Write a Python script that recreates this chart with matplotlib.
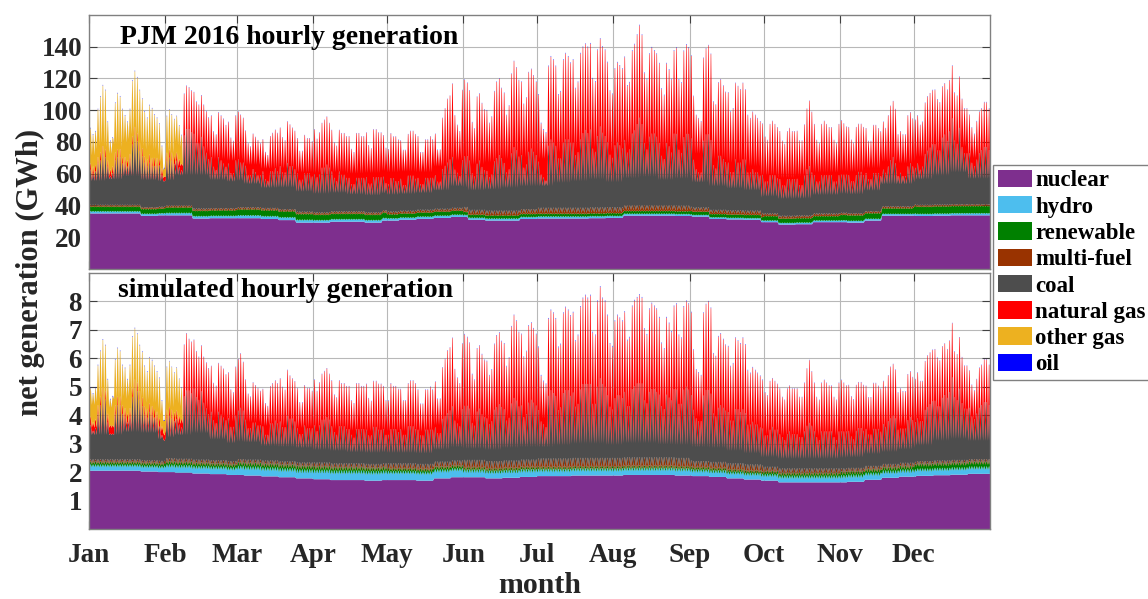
import numpy as np
import matplotlib
matplotlib.use("Agg")
import matplotlib.pyplot as plt
from matplotlib.patches import Patch

plt.rcParams['font.family'] = ['Liberation Serif', 'DejaVu Serif']
plt.rcParams['font.weight'] = 'bold'

# ---------------------------------------------------------------- calendar
MONTHS = ['Jan', 'Feb', 'Mar', 'Apr', 'May', 'Jun',
          'Jul', 'Aug', 'Sep', 'Oct', 'Nov', 'Dec']
MONTH_DAYS = [31, 29, 31, 30, 31, 30, 31, 31, 30, 31, 30, 31]
N_DAYS = 366

FUELS = ['nuclear', 'hydro', 'renewable', 'multi-fuel', 'coal',
         'natural gas', 'other gas', 'oil']
COLORS = ['#7E2F8E', '#4DBEEE', '#008000', '#993300', '#4D4D4D',
          '#FF0000', '#EDB120', '#0000FF']

# ================================================================ PJM 2016 (GWh)
# weekly nuclear output
pjm_nuclear_wk = [35, 35, 35, 33.5, 33.8, 33.8,
                  31.8, 32, 32, 32, 31.5, 30.8, 29.2,
                  29.2, 29.8, 29.8, 29.2, 30.5, 31, 31.6,
                  32.2, 32.8, 31, 30.5, 30.5, 31.5,
                  31.8, 31.8, 31.8, 32, 32.2, 33.6, 33.6, 33.6, 33.4,
                  33, 31.5, 31.2, 31,
                  29.5, 28, 28.2, 29.5, 29.5,
                  29.2, 30.5, 33.6, 33.6,
                  33.4, 33.6, 33.8, 33.8, 33.8]
# monthly hydro / renewable / multi-fuel / oil (night, afternoon)
pjm_hydro_lo = [0.9, 1.0, 1.2, 1.1, 1.0, 0.8, 0.8, 0.8, 0.7, 0.7, 0.8, 0.9]
pjm_hydro_hi = [1.5, 1.7, 2.0, 1.8, 1.6, 1.5, 1.5, 1.4, 1.2, 1.2, 1.3, 1.5]
pjm_renew = [3.0, 3.5, 3.8, 3.5, 2.6, 2.0, 1.8, 1.8, 2.1, 2.8, 3.5, 4.6]
pjm_mfuel_lo = [0.6, 0.6, 0.6, 0.6, 0.7, 0.8, 0.9, 0.9, 0.8, 0.7, 0.6, 0.6]
pjm_mfuel_hi = [1.0, 1.2, 1.2, 1.3, 1.6, 2.8, 3.5, 3.5, 2.5, 1.6, 1.2, 1.0]
pjm_oil_lo = [0.1, 0.1, 0.1, 0.1, 0.1, 0.1, 0.1, 0.1, 0.1, 0.1, 0.1, 0.1]
pjm_oil_hi = [0.5, 0.4, 0.3, 0.3, 0.3, 0.4, 0.6, 0.6, 0.4, 0.3, 0.3, 0.4]
# weekly night-time coal and natural gas
pjm_coal_lo_wk = [16, 17, 19, 18, 17, 20,
                  22, 19, 18, 16, 14, 15, 14,
                  13, 13, 12, 12, 12, 12, 12,
                  13, 15, 15, 16, 17, 17,
                  17, 19, 20, 21, 19, 20, 21, 19, 20,
                  18, 17, 16, 15,
                  12, 12, 12, 13, 13,
                  13, 14, 15, 15,
                  17, 19, 21, 17, 17]
pjm_gas_lo_wk = [2, 2, 2, 2, 2, 6,
                 14, 13, 13, 12, 12, 12, 12,
                 13, 13, 13, 14, 14, 14, 13,
                 15, 16, 16, 17, 18, 18,
                 17, 19, 20, 20, 19, 20, 20, 19, 20,
                 18, 17, 16, 15,
                 13, 13, 14, 14, 14,
                 14, 14, 14, 13,
                 14, 15, 16, 13, 13]
# daily afternoon-peak coal output (Fri..Thu rows)
pjm_coal_pk = [22, 20, 21, 26, 28, 32, 30,
               24, 18, 20, 28, 30, 30, 26,
               26, 24, 28, 38, 44, 40, 34,
               32, 28, 26, 28, 26, 26, 26,
               26, 20, 16, 28, 30, 28, 26,
               28, 24, 22, 44, 48, 48, 46,
               47, 41, 41, 45, 39, 35, 31,
               32, 26, 24, 32, 30, 28, 26,
               28, 22, 22, 30, 30, 28, 28,
               26, 20, 20, 24, 22, 20, 20,
               23, 18, 17, 23, 23, 25, 23,
               27, 23, 23, 29, 27, 27, 25,
               24, 20, 20, 24, 24, 24, 22,
               24, 22, 24, 28, 28, 30, 28,
               25, 21, 19, 25, 23, 23, 21,
               21, 17, 17, 21, 21, 21, 21,
               22, 18, 18, 22, 22, 22, 22,
               21, 17, 17, 21, 21, 19, 19,
               20, 16, 16, 22, 22, 22, 20,
               20, 16, 16, 20, 20, 20, 20,
               21, 17, 17, 25, 27, 29, 31,
               32, 24, 22, 20, 30, 32, 32,
               31, 23, 21, 29, 31, 27, 25,
               25, 21, 23, 31, 33, 35, 33,
               30, 24, 26, 36, 40, 38, 34,
               34, 26, 28, 36, 38, 36, 34,
               29, 21, 19, 17, 39, 43, 41,
               39, 31, 31, 41, 43, 43, 41,
               41, 33, 35, 43, 47, 49, 47,
               49, 37, 35, 45, 51, 47, 45,
               41, 33, 31, 39, 41, 39, 37,
               41, 33, 35, 45, 47, 51, 55,
               51, 39, 35, 43, 45, 45, 43,
               39, 31, 29, 39, 37, 33, 45,
               45, 35, 33, 43, 45, 45, 43,
               30, 24, 22, 22, 42, 46, 46,
               44, 28, 26, 34, 34, 32, 30,
               30, 24, 24, 32, 30, 30, 32,
               32, 24, 24, 26, 24, 24, 22,
               24, 20, 20, 24, 24, 24, 22,
               23, 19, 19, 23, 23, 23, 23,
               23, 19, 19, 25, 29, 31, 27,
               24, 20, 20, 24, 24, 24, 24,
               24, 20, 20, 24, 24, 24, 24,
               24, 20, 20, 24, 26, 26, 24,
               24, 20, 20, 24, 24, 24, 22,
               23, 21, 25, 29, 31, 27, 19,
               21, 19, 19, 25, 27, 25, 23,
               26, 22, 24, 32, 34, 36, 38,
               38, 34, 34, 42, 44, 40, 46,
               54, 40, 38, 48, 36, 32, 32,
               32, 26, 24, 28, 32, 34, 36,
               36, 34]
# daily afternoon-peak natural gas output
pjm_gas_pk = [4, 4, 4, 4, 5, 5, 5,
              4, 4, 4, 5, 5, 5, 4,
              4, 4, 4, 5, 5, 5, 5,
              5, 4, 4, 5, 5, 5, 5,
              4, 4, 3, 5, 5, 5, 5,
              5, 5, 4, 26, 27, 26, 26,
              26, 26, 24, 26, 26, 26, 26,
              26, 22, 22, 28, 28, 28, 26,
              26, 22, 20, 28, 30, 30, 28,
              22, 20, 18, 22, 22, 22, 20,
              20, 17, 16, 22, 24, 24, 24,
              24, 22, 20, 26, 26, 24, 24,
              22, 18, 18, 24, 22, 22, 22,
              28, 24, 26, 28, 30, 30, 28,
              26, 22, 22, 26, 26, 26, 26,
              26, 22, 20, 28, 28, 26, 26,
              28, 24, 22, 30, 30, 28, 28,
              26, 22, 22, 28, 26, 28, 26,
              24, 22, 22, 26, 28, 28, 28,
              26, 20, 20, 24, 24, 26, 24,
              26, 20, 20, 32, 36, 40, 40,
              46, 34, 30, 28, 44, 48, 46,
              44, 32, 30, 42, 42, 40, 38,
              38, 34, 36, 44, 48, 48, 44,
              44, 36, 40, 50, 54, 52, 48,
              46, 40, 42, 50, 50, 48, 46,
              42, 32, 30, 30, 50, 52, 52,
              50, 40, 42, 52, 54, 52, 50,
              52, 42, 44, 54, 54, 54, 54,
              54, 44, 44, 54, 55, 54, 54,
              50, 40, 40, 48, 50, 50, 50,
              52, 42, 42, 52, 54, 56, 58,
              56, 44, 44, 52, 54, 52, 52,
              50, 42, 40, 50, 48, 46, 52,
              54, 44, 44, 54, 56, 54, 52,
              40, 34, 34, 32, 52, 54, 56,
              54, 40, 40, 46, 48, 46, 44,
              44, 38, 40, 48, 48, 46, 48,
              44, 36, 34, 36, 36, 34, 34,
              32, 28, 26, 32, 34, 32, 32,
              30, 28, 26, 30, 32, 30, 30,
              30, 28, 28, 32, 38, 41, 38,
              32, 26, 24, 32, 34, 32, 30,
              30, 26, 24, 32, 34, 32, 30,
              30, 26, 24, 30, 30, 30, 30,
              28, 24, 24, 30, 30, 28, 28,
              30, 28, 32, 34, 35, 34, 26,
              26, 26, 26, 32, 32, 30, 30,
              30, 28, 28, 32, 34, 34, 34,
              34, 32, 30, 32, 32, 32, 32,
              33, 30, 30, 32, 30, 28, 28,
              24, 22, 20, 24, 26, 26, 28,
              28, 26]
# daily other-gas output, Jan 1 - Feb 11 (zero afterwards)
pjm_ogas_lo = [16, 14, 14, 18, 20, 21, 20,
               18, 14, 14, 20, 20, 20, 18,
               20, 19, 21, 24, 25, 24, 22,
               21, 19, 17, 19, 19, 17, 17,
               14, 10, 5, 15, 16, 15, 15,
               15, 13, 12, 0, 0, 0, 0]
pjm_ogas_pk = [22, 20, 21, 30, 35, 38, 37,
               24, 18, 18, 31, 35, 33, 30,
               26, 24, 28, 35, 35, 35, 33,
               31, 28, 26, 31, 31, 27, 25,
               22, 14, 5, 23, 25, 24, 23,
               23, 21, 18, 0, 0, 0, 0]

# ================================================================ simulated
sim_nuclear_wk = [2.05, 2.05, 2.05, 2.02, 2.0, 1.98,
                  1.95, 1.93, 1.9, 1.88, 1.85, 1.82, 1.78,
                  1.75, 1.72, 1.72, 1.7, 1.72, 1.72, 1.7,
                  1.78, 1.82, 1.82, 1.78, 1.8, 1.83,
                  1.86, 1.86, 1.88, 1.88, 1.88, 1.9, 1.9, 1.9, 1.88,
                  1.86, 1.83, 1.78, 1.74,
                  1.7, 1.64, 1.64, 1.64, 1.64,
                  1.66, 1.73, 1.8, 1.84,
                  1.87, 1.89, 1.91, 1.94, 1.94]
sim_hydro_lo = [0.12, 0.15, 0.18, 0.20, 0.20, 0.15, 0.13, 0.13, 0.12, 0.12, 0.13, 0.14]
sim_hydro_hi = [0.22, 0.27, 0.32, 0.34, 0.32, 0.28, 0.26, 0.26, 0.24, 0.24, 0.26, 0.26]
sim_renew = [0.10, 0.12, 0.14, 0.13, 0.11, 0.09, 0.08, 0.08, 0.09, 0.11, 0.13, 0.18]
sim_mfuel_lo = [0.04, 0.05, 0.05, 0.05, 0.05, 0.06, 0.06, 0.06, 0.06, 0.05, 0.05, 0.04]
sim_mfuel_hi = [0.08, 0.10, 0.10, 0.12, 0.16, 0.24, 0.28, 0.28, 0.20, 0.14, 0.10, 0.08]
sim_oil_lo = [0.005] * 12
sim_oil_hi = [0.03, 0.02, 0.02, 0.02, 0.02, 0.03, 0.04, 0.04, 0.03, 0.02, 0.02, 0.02]
sim_coal_lo_wk = [1.0, 1.0, 1.1, 1.1, 0.9, 1.0,
                  1.1, 0.9, 0.8, 0.8, 0.7, 0.7, 0.7,
                  0.65, 0.65, 0.6, 0.6, 0.6, 0.6, 0.6,
                  0.65, 0.7, 0.7, 0.7, 0.75, 0.75,
                  0.75, 0.8, 0.85, 0.85, 0.8, 0.85, 0.85, 0.8, 0.8,
                  0.75, 0.75, 0.7, 0.65,
                  0.55, 0.55, 0.55, 0.55, 0.55,
                  0.55, 0.6, 0.6, 0.65,
                  0.7, 0.85, 0.9, 0.8, 0.8]
sim_gas_lo_wk = [0.25, 0.25, 0.25, 0.25, 0.25, 0.4,
                 0.8, 0.75, 0.75, 0.7, 0.7, 0.7, 0.7,
                 0.75, 0.75, 0.75, 0.75, 0.75, 0.75, 0.75,
                 0.85, 0.9, 0.9, 0.95, 1.0, 1.0,
                 1.0, 1.1, 1.15, 1.15, 1.1, 1.15, 1.15, 1.1, 1.15,
                 1.05, 1.0, 0.95, 0.9,
                 0.8, 0.8, 0.8, 0.8, 0.8,
                 0.8, 0.8, 0.8, 0.8,
                 0.85, 0.9, 0.95, 0.75, 0.75]
sim_coal_pk = [1.2, 1.0, 1.1, 1.6, 1.9, 2.2, 2.1,
               1.3, 0.9, 0.9, 1.6, 1.9, 1.9, 1.6,
               1.5, 1.3, 1.5, 2.2, 2.5, 2.4, 2.1,
               1.9, 1.6, 1.5, 1.7, 1.6, 1.5, 1.4,
               1.2, 0.9, 0.7, 1.4, 1.5, 1.4, 1.3,
               1.4, 1.2, 1.1, 2.2, 2.4, 2.4, 2.3,
               2.5, 2.2, 2.1, 2.4, 2.0, 1.8, 1.6,
               1.7, 1.4, 1.3, 1.7, 1.6, 1.5, 1.4,
               1.5, 1.2, 1.2, 1.6, 1.7, 1.8, 1.7,
               1.4, 1.1, 1.1, 1.3, 1.3, 1.2, 1.2,
               1.2, 0.9, 0.9, 1.3, 1.3, 1.4, 1.3,
               1.4, 1.2, 1.2, 1.6, 1.5, 1.5, 1.4,
               1.2, 1.0, 1.0, 1.3, 1.2, 1.2, 1.2,
               1.3, 1.1, 1.3, 1.5, 1.5, 1.6, 1.5,
               1.3, 1.1, 1.0, 1.3, 1.3, 1.3, 1.2,
               1.2, 1.0, 0.9, 1.2, 1.2, 1.2, 1.2,
               1.2, 1.0, 1.0, 1.3, 1.3, 1.2, 1.2,
               1.2, 1.0, 1.0, 1.2, 1.2, 1.2, 1.1,
               1.2, 1.0, 1.0, 1.3, 1.3, 1.3, 1.2,
               1.2, 1.0, 1.0, 1.2, 1.2, 1.2, 1.2,
               1.2, 1.0, 1.0, 1.5, 1.6, 1.7, 1.8,
               1.9, 1.4, 1.3, 1.2, 1.8, 1.9, 1.9,
               1.8, 1.3, 1.2, 1.7, 1.8, 1.6, 1.5,
               1.5, 1.3, 1.4, 1.8, 1.9, 2.0, 1.9,
               1.8, 1.4, 1.5, 2.0, 2.2, 2.1, 1.9,
               1.9, 1.5, 1.6, 2.0, 2.1, 2.0, 1.9,
               1.7, 1.3, 1.2, 1.1, 2.2, 2.4, 2.3,
               2.2, 1.7, 1.8, 2.3, 2.4, 2.4, 2.2,
               2.3, 1.8, 1.9, 2.4, 2.6, 2.6, 2.6,
               2.6, 1.9, 1.9, 2.5, 2.8, 2.6, 2.5,
               2.2, 1.8, 1.7, 2.1, 2.2, 2.2, 2.1,
               2.3, 1.8, 1.8, 2.4, 2.5, 2.6, 2.6,
               2.6, 2.0, 1.9, 2.3, 2.4, 2.4, 2.3,
               2.2, 1.8, 1.7, 2.2, 2.1, 2.0, 2.4,
               2.4, 1.9, 1.9, 2.4, 2.5, 2.4, 2.3,
               1.8, 1.5, 1.4, 1.4, 2.3, 2.5, 2.5,
               2.4, 1.7, 1.6, 1.9, 2.0, 1.9, 1.8,
               1.8, 1.5, 1.5, 1.9, 1.9, 1.8, 1.9,
               1.8, 1.4, 1.4, 1.5, 1.4, 1.4, 1.3,
               1.3, 1.1, 1.1, 1.3, 1.4, 1.3, 1.3,
               1.2, 1.1, 1.0, 1.2, 1.3, 1.2, 1.2,
               1.2, 1.1, 1.1, 1.3, 1.5, 1.6, 1.5,
               1.3, 1.1, 1.0, 1.3, 1.3, 1.3, 1.3,
               1.3, 1.1, 1.0, 1.3, 1.3, 1.3, 1.3,
               1.3, 1.1, 1.0, 1.3, 1.4, 1.4, 1.3,
               1.3, 1.1, 1.1, 1.3, 1.3, 1.3, 1.2,
               1.4, 1.3, 1.5, 1.6, 1.7, 1.6, 1.2,
               1.2, 1.2, 1.2, 1.5, 1.6, 1.5, 1.4,
               1.5, 1.4, 1.4, 1.8, 1.9, 2.0, 2.1,
               2.1, 1.9, 1.9, 2.2, 2.3, 2.2, 2.4,
               2.9, 2.2, 2.1, 2.5, 2.0, 1.8, 1.8,
               1.8, 1.5, 1.4, 1.6, 1.8, 1.9, 2.0,
               2.0, 1.9]
sim_gas_pk = [0.3, 0.3, 0.3, 0.3, 0.3, 0.3, 0.3,
              0.3, 0.3, 0.3, 0.3, 0.3, 0.3, 0.3,
              0.3, 0.3, 0.3, 0.3, 0.3, 0.3, 0.3,
              0.3, 0.3, 0.3, 0.3, 0.3, 0.3, 0.3,
              0.3, 0.3, 0.2, 0.3, 0.3, 0.3, 0.3,
              0.3, 0.3, 0.3, 1.8, 2.0, 1.8, 1.8,
              1.7, 1.6, 1.5, 1.6, 1.6, 1.6, 1.6,
              1.6, 1.3, 1.3, 1.7, 1.7, 1.7, 1.6,
              1.6, 1.3, 1.2, 1.7, 1.8, 1.9, 1.7,
              1.4, 1.2, 1.1, 1.4, 1.3, 1.3, 1.2,
              1.3, 1.1, 1.0, 1.3, 1.4, 1.4, 1.4,
              1.5, 1.4, 1.3, 1.6, 1.5, 1.4, 1.4,
              1.4, 1.1, 1.1, 1.4, 1.4, 1.4, 1.3,
              1.6, 1.4, 1.5, 1.6, 1.7, 1.7, 1.6,
              1.6, 1.3, 1.3, 1.6, 1.5, 1.5, 1.5,
              1.5, 1.2, 1.2, 1.6, 1.6, 1.5, 1.5,
              1.6, 1.3, 1.2, 1.6, 1.6, 1.6, 1.6,
              1.5, 1.2, 1.2, 1.6, 1.5, 1.5, 1.5,
              1.4, 1.2, 1.2, 1.5, 1.6, 1.6, 1.6,
              1.4, 1.1, 1.1, 1.4, 1.4, 1.5, 1.4,
              1.6, 1.2, 1.2, 1.8, 2.0, 2.2, 2.2,
              2.4, 1.8, 1.6, 1.5, 2.3, 2.5, 2.4,
              2.3, 1.7, 1.6, 2.2, 2.2, 2.1, 2.0,
              2.0, 1.7, 1.8, 2.3, 2.5, 2.5, 2.3,
              2.3, 1.9, 2.1, 2.7, 2.9, 2.8, 2.6,
              2.5, 2.1, 2.2, 2.7, 2.7, 2.6, 2.5,
              2.2, 1.6, 1.5, 1.5, 2.7, 2.8, 2.8,
              2.7, 2.2, 2.2, 2.8, 2.9, 2.8, 2.8,
              2.8, 2.3, 2.4, 2.9, 3.0, 3.1, 3.0,
              3.1, 2.5, 2.4, 3.0, 3.2, 3.0, 3.0,
              2.8, 2.2, 2.2, 2.7, 2.8, 2.7, 2.7,
              2.8, 2.3, 2.4, 2.9, 3.0, 3.0, 3.1,
              3.0, 2.5, 2.4, 2.9, 3.0, 2.9, 2.9,
              2.7, 2.2, 2.1, 2.7, 2.6, 2.4, 2.9,
              3.0, 2.4, 2.3, 2.9, 3.0, 3.0, 2.9,
              2.1, 1.7, 1.7, 1.6, 2.9, 3.0, 3.1,
              3.0, 2.1, 2.1, 2.5, 2.5, 2.4, 2.3,
              2.3, 1.9, 2.0, 2.5, 2.4, 2.4, 2.5,
              2.4, 1.9, 1.8, 1.9, 1.9, 1.8, 1.8,
              1.7, 1.5, 1.4, 1.7, 1.7, 1.7, 1.6,
              1.6, 1.4, 1.4, 1.6, 1.6, 1.6, 1.6,
              1.6, 1.4, 1.4, 1.7, 2.0, 2.2, 1.9,
              1.7, 1.4, 1.4, 1.7, 1.8, 1.7, 1.6,
              1.6, 1.4, 1.4, 1.7, 1.8, 1.7, 1.6,
              1.6, 1.4, 1.4, 1.6, 1.6, 1.6, 1.6,
              1.5, 1.3, 1.3, 1.6, 1.6, 1.5, 1.5,
              1.5, 1.4, 1.6, 1.8, 1.8, 1.7, 1.3,
              1.4, 1.3, 1.3, 1.6, 1.6, 1.5, 1.5,
              1.6, 1.4, 1.4, 1.7, 1.8, 1.8, 1.8,
              1.8, 1.7, 1.6, 1.8, 1.8, 1.7, 1.8,
              1.9, 1.6, 1.6, 1.8, 1.6, 1.5, 1.5,
              1.3, 1.1, 1.0, 1.2, 1.4, 1.4, 1.5,
              1.5, 1.4]
sim_ogas_lo = [0.8, 0.8, 0.8, 0.9, 1.0, 1.1, 1.0,
               0.9, 0.7, 0.7, 1.0, 1.0, 1.0, 0.9,
               1.0, 0.9, 1.0, 1.1, 1.1, 1.1, 1.0,
               1.0, 0.9, 0.8, 0.9, 0.9, 0.8, 0.8,
               0.8, 0.6, 0.4, 0.9, 0.9, 0.8, 0.8,
               0.8, 0.7, 0.6, 0, 0, 0, 0]
sim_ogas_pk = [1.0, 1.0, 1.1, 1.4, 1.6, 1.7, 1.6,
               1.2, 0.9, 1.0, 1.6, 1.7, 1.6, 1.4,
               1.4, 1.2, 1.5, 1.8, 1.8, 1.7, 1.6,
               1.6, 1.4, 1.3, 1.6, 1.6, 1.5, 1.4,
               1.4, 0.9, 0.5, 1.5, 1.6, 1.5, 1.4,
               1.5, 1.3, 1.1, 0, 0, 0, 0]


# ---------------------------------------------------------------- helpers
def fit(values, fill=None):
    """Pad/trim a per-day list to the length of the year."""
    a = np.asarray(values, float)[:N_DAYS]
    pad = N_DAYS - a.size
    if pad > 0:
        a = np.concatenate([a, np.full(pad, a[-1] if fill is None else fill)])
    return a


def by_week(values):
    return fit(np.repeat(np.asarray(values, float), 7))


def by_month(values):
    return fit(np.repeat(np.asarray(values, float), MONTH_DAYS))


# each day: night minimum, then the afternoon peak held briefly
def day_cycle(lo, hi):
    seq = np.column_stack([lo, hi, hi]).ravel()
    return np.concatenate([[lo[0]], seq, [lo[-1]]])


days = np.arange(N_DAYS)
hours = np.concatenate([[0],
                        np.column_stack([days + 0.18, days + 0.55, days + 0.74]).ravel(),
                        [N_DAYS]])


def build_layers(nuc_wk, hyd_lo, hyd_hi, ren, mf_lo, mf_hi,
                 coal_lo_wk, coal_pk, gas_lo_wk, gas_pk, og_lo, og_pk,
                 oil_lo, oil_hi):
    nuc = by_week(nuc_wk)
    return [day_cycle(nuc, nuc),
            day_cycle(by_month(hyd_lo), by_month(hyd_hi)),
            day_cycle(by_month(ren), by_month(ren)),
            day_cycle(by_month(mf_lo), by_month(mf_hi)),
            day_cycle(by_week(coal_lo_wk), fit(coal_pk)),
            day_cycle(by_week(gas_lo_wk), fit(gas_pk)),
            day_cycle(fit(og_lo, 0.0), fit(og_pk, 0.0)),
            day_cycle(by_month(oil_lo), by_month(oil_hi))]


pjm_layers = build_layers(pjm_nuclear_wk, pjm_hydro_lo, pjm_hydro_hi, pjm_renew,
                          pjm_mfuel_lo, pjm_mfuel_hi, pjm_coal_lo_wk, pjm_coal_pk,
                          pjm_gas_lo_wk, pjm_gas_pk, pjm_ogas_lo, pjm_ogas_pk,
                          pjm_oil_lo, pjm_oil_hi)
sim_layers = build_layers(sim_nuclear_wk, sim_hydro_lo, sim_hydro_hi, sim_renew,
                          sim_mfuel_lo, sim_mfuel_hi, sim_coal_lo_wk, sim_coal_pk,
                          sim_gas_lo_wk, sim_gas_pk, sim_ogas_lo, sim_ogas_pk,
                          sim_oil_lo, sim_oil_hi)

# ---------------------------------------------------------------- figure
W, H = 1148, 599
fig = plt.figure(figsize=(W / 100, H / 100), dpi=100)
ax1 = fig.add_axes([89 / W, 1 - 269 / H, 901 / W, 254 / H])
ax2 = fig.add_axes([89 / W, 1 - 529 / H, 901 / W, 256 / H])

month_starts = np.concatenate([[0], np.cumsum(MONTH_DAYS)[:-1]])
TXT = '#262626'

for ax, layers, ylim, yticks, title, tpos in [
        (ax1, pjm_layers, 160, np.arange(20, 141, 20),
         'PJM 2016 hourly generation', (0.0345, 0.912)),
        (ax2, sim_layers, 9, np.arange(1, 9),
         'simulated hourly generation', (0.032, 0.93))]:
    ax.stackplot(hours, *layers, colors=COLORS, linewidth=0, antialiased=True)
    ax.set_xlim(0, N_DAYS)
    ax.set_ylim(0, ylim)
    ax.set_xticks(month_starts)
    ax.set_yticks(yticks)
    ax.set_axisbelow(True)
    ax.grid(True, color='#b8b8b8', linewidth=0.8)
    ax.tick_params(direction='in', length=6, width=0.8, top=True, right=True,
                   colors='#404040', labelcolor=TXT, labelsize=19.5)
    ax.tick_params(axis='y', pad=5)
    ax.tick_params(axis='x', pad=10)
    for sp in ax.spines.values():
        sp.set_color('#808080')
        sp.set_linewidth(1.0)
    ax.text(*tpos, title, transform=ax.transAxes, fontsize=20,
            fontweight='bold', va='center', ha='left', color='black')

ax1.set_xticklabels([])
ax2.set_xticklabels(MONTHS)

fig.text(30 / W, 1 - 272 / H, 'net generation (GWh)', rotation=90,
         ha='center', va='center', fontsize=22, fontweight='bold', color=TXT)
fig.text(539.5 / W, 1 - 593 / H, 'month', ha='center', va='baseline',
         fontsize=21.5, fontweight='bold', color=TXT)

handles = [Patch(facecolor=c, edgecolor='none') for c in COLORS]
fig.legend(handles, FUELS, loc='upper left',
           bbox_to_anchor=(993 / W, 1 - 165 / H), borderaxespad=0,
           prop=dict(size=16.5, weight='bold'), frameon=True, fancybox=False,
           edgecolor='#808080', framealpha=1, borderpad=0.2,
           labelspacing=0.2, handlelength=1.5, handleheight=0.8,
           handletextpad=0.15)

fig.savefig('out.png', dpi=100)
